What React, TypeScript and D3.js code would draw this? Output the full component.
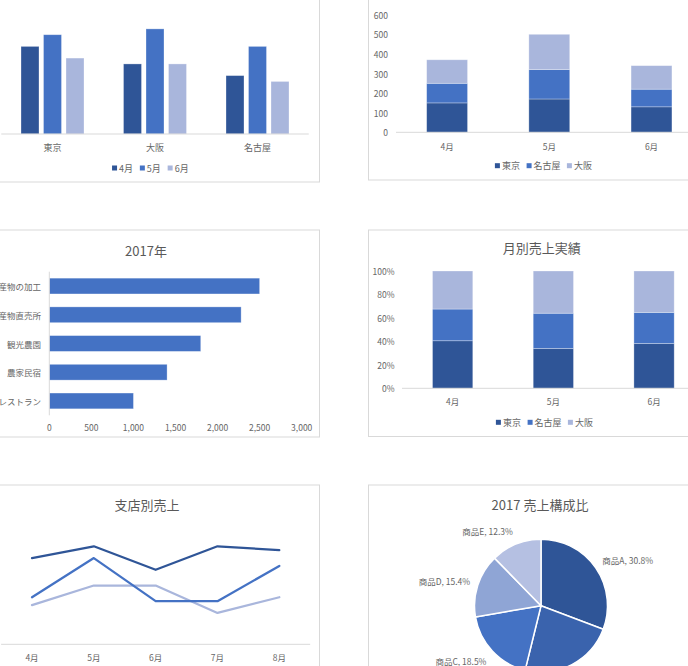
import React from "react";
import * as d3 from "d3";

// ---------- DATA ----------
const cities = ["東京", "大阪", "名古屋"];
const months3 = ["4月", "5月", "6月"];
// sales by city (rows) and month (cols)
const salesTokyo = [150, 170, 130];
const salesNagoya = [100, 150, 90];
const salesOsaka = [120, 180, 120];
const stackSeries = ["東京", "名古屋", "大阪"];

const bizCategories = ["農産物の加工", "農産物直売所", "観光農園", "農家民宿", "農家レストラン"];
const bizValues2017 = [2500, 2280, 1800, 1400, 1000];

const months5 = ["4月", "5月", "6月", "7月", "8月"];
const lineSeriesNames = ["東京", "名古屋", "大阪"];
const lineTokyo = [220, 250, 190, 250, 240];
const lineNagoya = [120, 220, 110, 110, 200];
const lineOsaka = [100, 150, 150, 80, 120];

const products = ["商品A", "商品B", "商品C", "商品D", "商品E"];
const productValues = [20, 15, 12, 10, 8];

// ---------- STYLE ----------
const FONT = "'Noto Sans CJK JP', 'Noto Sans', sans-serif";
const TXT = "#595959";
const TICK = "#666666";
const GRID = "#d9d9d9";
const C_DARK = "#2f5597";
const C_MID = "#4472c4";
const C_LIGHT = "#a9b6dc";
const seriesColors = [C_DARK, C_MID, C_LIGHT];
const pieColors = ["#2f5597", "#3a63ad", "#4472c4", "#8fa5d5", "#b5c0e2"];

const byCity: Record<string, number[]> = {
  東京: salesTokyo,
  大阪: salesOsaka,
  名古屋: salesNagoya,
};

function textW(s: string) {
  let w = 0;
  for (const ch of s) w += /[0-9]/.test(ch) ? 4.7 : 8.6;
  return w;
}

function Frame({ x, y, w, h }: { x: number; y: number; w: number; h: number }) {
  return <rect x={x} y={y} width={w} height={h} fill="#fff" stroke={GRID} strokeWidth={1} />;
}

function Legend({ cx, y, items, colors }: { cx: number; y: number; items: string[]; colors: string[] }) {
  const gap = 7.5;
  const widths = items.map((s) => 7 + textW(s) + gap);
  const total = d3.sum(widths) - gap;
  let x = cx - total / 2;
  return (
    <g>
      {items.map((s, i) => {
        const gx = x;
        x += widths[i];
        return (
          <g key={s}>
            <rect x={gx} y={y - 2.5} width={5} height={5} fill={colors[i]} />
            <text x={gx + 7} y={y} dominantBaseline="central" fontSize={9} fill={TICK}>
              {s}
            </text>
          </g>
        );
      })}
    </g>
  );
}

// Panel 1: clustered column by city
function Panel1() {
  const x0 = d3.scaleBand<string>().domain(cities).range([1.25, 308.75]);
  const groupW = 63;
  const x1 = d3.scaleBand<string>().domain(months3).range([0, groupW]).paddingInner(0.2);
  const y = d3.scaleLinear().domain([0, 200]).range([134, 17.2]);
  return (
    <g>
      <Frame x={-10} y={-10} w={329.5} h={192} />
      {cities.map((c) => (
        <g key={c} transform={`translate(${x0(c)! + (x0.bandwidth() - groupW) / 2},0)`}>
          {months3.map((m, j) => (
            <rect
              key={m}
              x={x1(m)}
              y={y(byCity[c][j])}
              width={x1.bandwidth()}
              height={y(0) - y(byCity[c][j])}
              fill={seriesColors[j]}
              stroke="#ffffff"
              strokeOpacity={0.4}
              strokeWidth={0.75}
            />
          ))}
        </g>
      ))}
      <line x1={1.25} x2={308.75} y1={y(0)} y2={y(0)} stroke={GRID} />
      {cities.map((c) => (
        <text key={c} x={x0(c)! + x0.bandwidth() / 2} y={147} textAnchor="middle" dominantBaseline="central" fontSize={9} fill={TICK}>
          {c}
        </text>
      ))}
      <Legend cx={150} y={168} items={months3} colors={seriesColors} />
    </g>
  );
}

function stackedData() {
  return months3.map((m, i) => ({
    month: m,
    東京: salesTokyo[i],
    名古屋: salesNagoya[i],
    大阪: salesOsaka[i],
  }));
}

// Panel 2: stacked column by month
function Panel2() {
  const data = stackedData();
  const stacks = d3.stack<any>().keys(stackSeries)(data);
  const x = d3.scaleBand<string>().domain(months3).range([396, 702.6]).paddingInner(0.6).paddingOuter(0.3);
  const y = d3.scaleLinear().domain([0, 600]).range([132.3, 14.7]);
  const ticks = d3.range(0, 601, 100);
  return (
    <g>
      <Frame x={368.5} y={-10} w={400} h={190} />
      {ticks.map((t) => (
        <text key={t} x={388} y={y(t)} textAnchor="end" dominantBaseline="central" fontSize={8.5} fill={TICK}>
          {t}
        </text>
      ))}
      {stacks.map((s, k) =>
        s.map((d, i) => (
          <rect
            key={k + "-" + i}
            x={x(months3[i])}
            y={y(d[1])}
            width={x.bandwidth()}
            height={y(d[0]) - y(d[1])}
            fill={seriesColors[k]}
            stroke="#fff"
            strokeOpacity={0.4}
            strokeWidth={0.75}
          />
        ))
      )}
      <line x1={396} x2={702} y1={y(0)} y2={y(0)} stroke={GRID} />
      {months3.map((m) => (
        <text key={m} x={x(m)! + x.bandwidth() / 2} y={145.7} textAnchor="middle" dominantBaseline="central" fontSize={8.5} fill={TICK}>
          {m}
        </text>
      ))}
      <Legend cx={543} y={165.7} items={stackSeries} colors={seriesColors} />
    </g>
  );
}

// Panel 3: horizontal bar
function Panel3() {
  const x = d3.scaleLinear().domain([0, 3000]).range([49.3, 301.7]);
  const y = d3.scaleBand<string>().domain(bizCategories).range([271.7, 415.3]).paddingInner(0.45).paddingOuter(0.225);
  const ticks = d3.range(0, 3001, 500);
  const fmt = d3.format(",");
  return (
    <g>
      <Frame x={-10} y={230} w={329.5} h={207} />
      <text x={146} y={250} textAnchor="middle" dominantBaseline="central" fontSize={13} fill={TXT}>
        2017年
      </text>
      {bizCategories.map((c, i) => (
        <g key={c}>
          <rect
            x={x(0)}
            y={y(c)}
            width={x(bizValues2017[i]) - x(0)}
            height={y.bandwidth()}
            fill={C_MID}
            stroke="#fff"
            strokeOpacity={0.4}
            strokeWidth={0.75}
          />
          <text x={41} y={y(c)! + y.bandwidth() / 2} textAnchor="end" dominantBaseline="central" fontSize={8.5} fill={TICK}>
            {c}
          </text>
        </g>
      ))}
      <line x1={x(0)} x2={x(0)} y1={271.7} y2={415.3} stroke={GRID} />
      {ticks.map((t) => (
        <text key={t} x={x(t)} y={426.7} textAnchor="middle" dominantBaseline="central" fontSize={8.5} fill={TICK}>
          {fmt(t)}
        </text>
      ))}
    </g>
  );
}

// Panel 4: 100% stacked column
function Panel4() {
  const data = stackedData();
  const stacks = d3.stack<any>().keys(stackSeries).offset(d3.stackOffsetExpand)(data);
  const x = d3.scaleBand<string>().domain(months3).range([402.3, 704.4]).paddingInner(0.6).paddingOuter(0.3);
  const y = d3.scaleLinear().domain([0, 1]).range([388.3, 271]);
  const ticks = d3.range(0, 1.0001, 0.2);
  const fmt = d3.format(".0%");
  return (
    <g>
      <Frame x={368.5} y={230} w={400} h={206.5} />
      <text x={541.7} y={247.7} textAnchor="middle" dominantBaseline="central" fontSize={13} fill={TXT}>
        月別売上実績
      </text>
      {ticks.map((t) => (
        <text key={t} x={394.5} y={y(t)} textAnchor="end" dominantBaseline="central" fontSize={8.5} fill={TICK}>
          {fmt(t)}
        </text>
      ))}
      {stacks.map((s, k) =>
        s.map((d, i) => (
          <rect
            key={k + "-" + i}
            x={x(months3[i])}
            y={y(d[1])}
            width={x.bandwidth()}
            height={y(d[0]) - y(d[1])}
            fill={seriesColors[k]}
            stroke="#fff"
            strokeOpacity={0.4}
            strokeWidth={0.75}
          />
        ))
      )}
      <line x1={402} x2={704} y1={y(0)} y2={y(0)} stroke={GRID} />
      {months3.map((m) => (
        <text key={m} x={x(m)! + x.bandwidth() / 2} y={401} textAnchor="middle" dominantBaseline="central" fontSize={8.5} fill={TICK}>
          {m}
        </text>
      ))}
      <Legend cx={544} y={422.3} items={stackSeries} colors={seriesColors} />
    </g>
  );
}

// Panel 5: line chart
function Panel5() {
  const x = d3.scalePoint<string>().domain(months5).range([32, 279.3]);
  const y = d3.scaleLinear().domain([0, 300]).range([644.3, 526.7]);
  const series = [lineTokyo, lineNagoya, lineOsaka];
  const line = d3
    .line<number>()
    .x((_, i) => x(months5[i])!)
    .y((v) => y(v));
  return (
    <g>
      <Frame x={-10} y={485} w={329.5} h={300} />
      <text x={147} y={504} textAnchor="middle" dominantBaseline="central" fontSize={13} fill={TXT}>
        支店別売上
      </text>
      <line x1={1.1} x2={310.2} y1={y(0)} y2={y(0)} stroke={GRID} />
      {[2, 1, 0].map((k) => (
        <path
          key={lineSeriesNames[k]}
          d={line(series[k]) || ""}
          fill="none"
          stroke={seriesColors[k]}
          strokeWidth={2.25}
          strokeLinejoin="round"
          strokeLinecap="round"
        />
      ))}
      {months5.map((m) => (
        <text key={m} x={x(m)} y={656.7} textAnchor="middle" dominantBaseline="central" fontSize={8.5} fill={TICK}>
          {m}
        </text>
      ))}
    </g>
  );
}

// Panel 6: pie
function Panel6() {
  const cx = 541;
  const cy = 605.7;
  const r = 66.5;
  const pie = d3.pie<number>().sort(null).value((d) => d);
  const arcs = pie(productValues);
  const arc = d3.arc<d3.PieArcDatum<number>>().innerRadius(0).outerRadius(r);
  const total = d3.sum(productValues);
  const fmt = d3.format(".1%");
  return (
    <g>
      <Frame x={368.5} y={485} w={400} h={300} />
      <text x={540} y={504} textAnchor="middle" dominantBaseline="central" fontSize={13} fill={TXT}>
        2017 売上構成比
      </text>
      <g transform={`translate(${cx},${cy})`}>
        {arcs.map((a, i) => (
          <path key={products[i]} d={arc(a) || ""} fill={pieColors[i]} stroke="#fff" strokeWidth={1.5} strokeLinejoin="round" />
        ))}
        {arcs.map((a, i) => {
          const mid = (a.startAngle + a.endAngle) / 2;
          const lr = r + 8;
          const px = Math.sin(mid) * lr;
          const py = -Math.cos(mid) * lr + -Math.cos(mid) * 6;
          const right = Math.sin(mid) >= 0;
          return (
            <text
              key={"l" + i}
              x={px}
              y={py}
              textAnchor={right ? "start" : "end"}
              dominantBaseline="central"
              fontSize={8.5}
              fill={TICK}
            >
              {`${products[i]}, ${fmt(productValues[i] / total)}`}
            </text>
          );
        })}
      </g>
    </g>
  );
}

export default function App() {
  return (
    <svg
      width={688}
      height={666}
      style={{ position: "absolute", left: 0, top: 0, display: "block", fontFamily: FONT }}
      fontFamily={FONT}
    >
      <rect width={688} height={666} fill="#fff" />
      <Panel1 />
      <Panel2 />
      <Panel3 />
      <Panel4 />
      <Panel5 />
      <Panel6 />
    </svg>
  );
}
